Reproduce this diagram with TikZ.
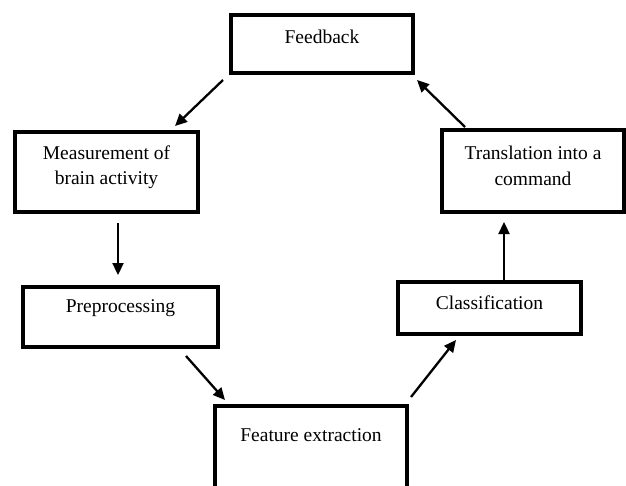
\documentclass[tikz,border=0pt]{standalone}
\usepackage{fontspec}
\setmainfont{Liberation Serif}
\usetikzlibrary{arrows.meta}
\begin{document}
\begin{tikzpicture}[x=1pt,y=-1pt,
  box/.style={draw=black, line width=3.2pt, rectangle, inner sep=0pt},
  txt/.style={font=\fontsize{19.5}{25.5}\selectfont, align=center, inner sep=0pt},
  arr/.style={line width=2.3pt, -{Triangle[length=12pt,width=11pt]}}]
\useasboundingbox (0,0) rectangle (626,485);
\clip (0,0) rectangle (626,485);
\fill[white] (0,0) rectangle (626,485);
% boxes
\node[box, minimum width=182pt, minimum height=58pt] (fb) at (322,44) {};
\node[box, minimum width=183pt, minimum height=80pt] (meas) at (106.5,172) {};
\node[box, minimum width=182pt, minimum height=82pt] (trans) at (533,171) {};
\node[box, minimum width=195pt, minimum height=60pt] (pre) at (120.5,317) {};
\node[box, minimum width=183pt, minimum height=52pt] (cls) at (489.5,308) {};
\node[box, minimum width=192pt, minimum height=100pt] (feat) at (311,456) {};
% texts
\node[txt] (tfb) at (322,37) {Feedback};
\node[txt] (tmeas) at (106.5,167) {Measurement of\\brain activity};
\node[txt] (ttrans) at (533,166) {Translation into a\\command};
\node[txt] (tpre) at (120.5,308) {Preprocessing};
\node[txt] (tcls) at (489.5,303) {Classification};
\node[txt] (tfeat) at (311,435) {Feature extraction};
% arrow end points
\coordinate (a1s) at (223,80);  \coordinate (a1e) at (175,126);
\coordinate (a2s) at (465,127); \coordinate (a2e) at (417,80);
\coordinate (a3s) at (118,223); \coordinate (a3e) at (118,275);
\coordinate (a4e) at (504,222);
\coordinate (a5s) at (186,356); \coordinate (a5e) at (225,400);
\coordinate (a6s) at (411,397); \coordinate (a6e) at (456,340);
\draw[arr] (a1s) -- (a1e);
\draw[arr] (a2s) -- (a2e);
\draw[arr] (a3s) -- (a3e);
\draw[arr] (cls.north -| a4e) -- (a4e);
\draw[arr] (a5s) -- (a5e);
\draw[arr] (a6s) -- (a6e);
\end{tikzpicture}
\end{document}
